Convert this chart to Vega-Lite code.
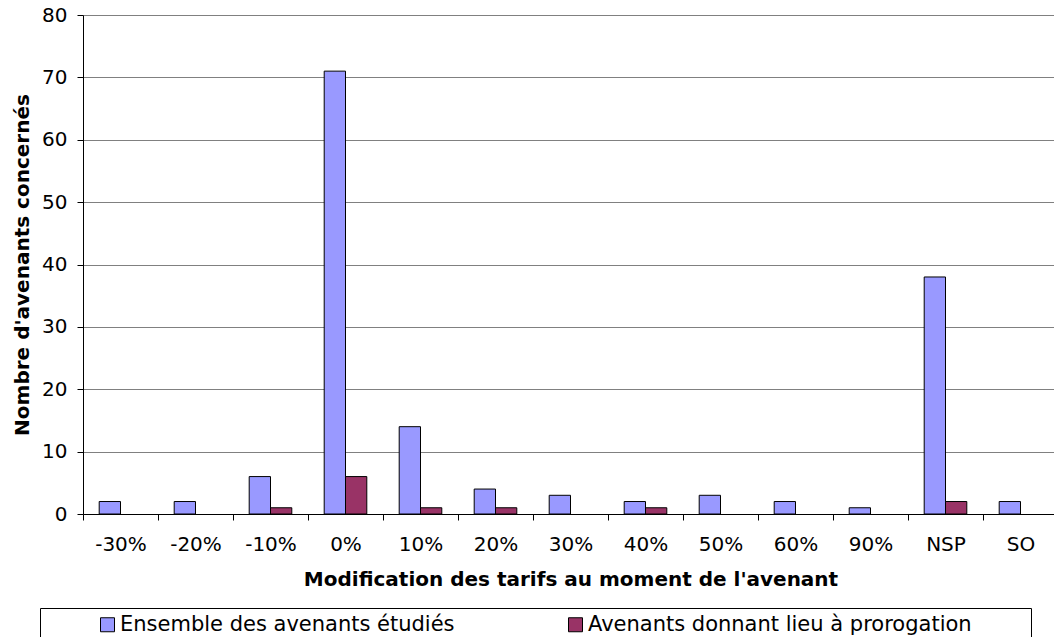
{
  "$schema": "https://vega.github.io/schema/vega-lite/v6.json",
  "width": 975,
  "height": 499,
  "autosize": "none",
  "padding": {"left": 83, "top": 15, "right": 0, "bottom": 123},
  "background": "white",
  "config": {
    "view": {"stroke": null},
    "font": "DejaVu Sans"
  },
  "data": {
    "values": [
      {"cat": "-30%", "serie": "Ensemble des avenants étudiés", "n": 2},
      {"cat": "-20%", "serie": "Ensemble des avenants étudiés", "n": 2},
      {"cat": "-10%", "serie": "Ensemble des avenants étudiés", "n": 6},
      {"cat": "-10%", "serie": "Avenants donnant lieu à prorogation", "n": 1},
      {"cat": "0%", "serie": "Ensemble des avenants étudiés", "n": 71},
      {"cat": "0%", "serie": "Avenants donnant lieu à prorogation", "n": 6},
      {"cat": "10%", "serie": "Ensemble des avenants étudiés", "n": 14},
      {"cat": "10%", "serie": "Avenants donnant lieu à prorogation", "n": 1},
      {"cat": "20%", "serie": "Ensemble des avenants étudiés", "n": 4},
      {"cat": "20%", "serie": "Avenants donnant lieu à prorogation", "n": 1},
      {"cat": "30%", "serie": "Ensemble des avenants étudiés", "n": 3},
      {"cat": "40%", "serie": "Ensemble des avenants étudiés", "n": 2},
      {"cat": "40%", "serie": "Avenants donnant lieu à prorogation", "n": 1},
      {"cat": "50%", "serie": "Ensemble des avenants étudiés", "n": 3},
      {"cat": "60%", "serie": "Ensemble des avenants étudiés", "n": 2},
      {"cat": "90%", "serie": "Ensemble des avenants étudiés", "n": 1},
      {"cat": "NSP", "serie": "Ensemble des avenants étudiés", "n": 38},
      {"cat": "NSP", "serie": "Avenants donnant lieu à prorogation", "n": 2},
      {"cat": "SO", "serie": "Ensemble des avenants étudiés", "n": 2}
    ]
  },
  "mark": {"type": "bar", "stroke": "black", "strokeWidth": 1, "opacity": 1},
  "encoding": {
    "x": {
      "field": "cat",
      "type": "nominal",
      "sort": ["-30%", "-20%", "-10%", "0%", "10%", "20%", "30%", "40%", "50%", "60%", "90%", "NSP", "SO"],
      "scale": {"paddingInner": 0, "paddingOuter": 0},
      "axis": {
        "title": "Modification des tarifs au moment de l'avenant",
        "titleFont": "DejaVu Sans",
        "titleFontSize": 20,
        "titleFontWeight": "bold",
        "titleColor": "black",
        "titlePadding": 15,
        "labelFont": "DejaVu Sans",
        "labelFontSize": 20,
        "labelColor": "black",
        "labelAngle": 0,
        "labelPadding": 14,
        "tickBand": "extent",
        "tickSize": 6,
        "tickColor": "black",
        "domainColor": "black",
        "grid": false
      }
    },
    "xOffset": {
      "field": "serie",
      "type": "nominal",
      "sort": ["Ensemble des avenants étudiés", "Avenants donnant lieu à prorogation"],
      "scale": {"domain": ["Ensemble des avenants étudiés", "Avenants donnant lieu à prorogation"], "paddingInner": 0, "paddingOuter": 0.76}
    },
    "y": {
      "field": "n",
      "type": "quantitative",
      "scale": {"domain": [0, 80], "nice": false},
      "axis": {
        "title": "Nombre d'avenants concernés",
        "titleFont": "DejaVu Sans",
        "titleFontSize": 20,
        "titleFontWeight": "bold",
        "titleColor": "black",
        "titlePadding": 9,
        "values": [0, 10, 20, 30, 40, 50, 60, 70, 80],
        "labelFont": "DejaVu Sans",
        "labelFontSize": 20,
        "labelColor": "black",
        "labelPadding": 10,
        "tickSize": 6,
        "tickColor": "black",
        "domainColor": "black",
        "grid": true,
        "gridColor": "#808080",
        "gridWidth": 1
      }
    },
    "color": {
      "field": "serie",
      "type": "nominal",
      "scale": {"domain": ["Ensemble des avenants étudiés", "Avenants donnant lieu à prorogation"], "range": ["#9999FF", "#993366"]},
      "legend": {
        "orient": "none",
        "legendX": -43,
        "legendY": 593,
        "direction": "horizontal",
        "columns": 2,
        "title": " ",
        "titleOrient": "right",
        "titlePadding": 53,
        "padding": 6,
        "strokeColor": "black",
        "fillColor": "white",
        "symbolType": "square",
        "symbolSize": 196,
        "symbolStrokeColor": "black",
        "symbolStrokeWidth": 1,
        "symbolOffset": 51,
        "labelOffset": 2,
        "labelFont": "DejaVu Sans",
        "labelFontSize": 21,
        "labelColor": "black",
        "labelLimit": 0,
        "columnPadding": 59
      }
    }
  }
}
